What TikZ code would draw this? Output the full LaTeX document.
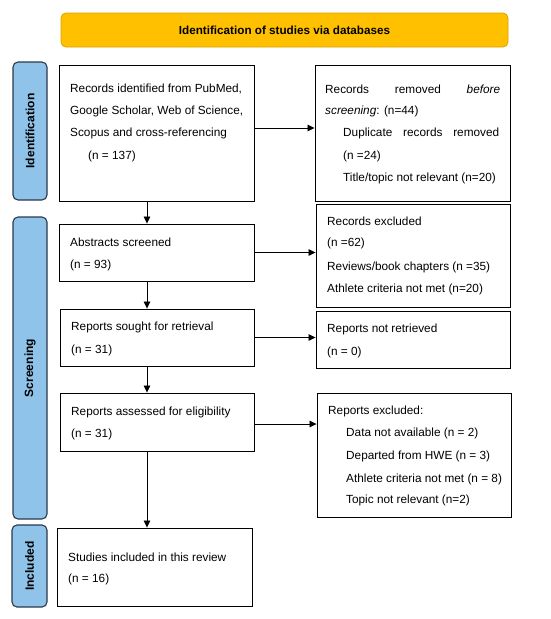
\documentclass[tikz,border=0pt]{standalone}
\usepackage{fontspec}
\setmainfont{Liberation Sans}
\usetikzlibrary{arrows.meta,calc}
\definecolor{bannerfill}{HTML}{FFC000}
\definecolor{bannerline}{HTML}{D9A300}
\definecolor{sidefill}{HTML}{8FC3E9}
\definecolor{sideline}{HTML}{2B3A4A}
\begin{document}
\begin{tikzpicture}[x=1pt,y=-1pt,
  box/.style={draw=black, line width=0.9pt, inner sep=0pt},
  banner/.style={draw=bannerline, fill=bannerfill, line width=0.8pt, rounded corners=5pt, inner sep=0pt, font=\fontsize{11.7}{13}\selectfont\bfseries},
  side/.style={draw=sideline, fill=sidefill, line width=1.1pt, rounded corners=5pt, inner sep=0pt},
  sidetxt/.style={rotate=90, font=\fontsize{12}{13}\selectfont\bfseries, inner sep=0pt},
  lbl/.style={anchor=west, inner sep=0pt, font=\fontsize{11.8}{13}\selectfont},
  arr/.style={-{Triangle[length=7pt,width=6.5pt]}, line width=0.8pt}]
\useasboundingbox (0,0) rectangle (550,619);
% banner
\node[banner, minimum width=447pt, minimum height=34pt] (ban) at (284.5,30) {Identification of studies via databases};
% side labels
\node[side, minimum width=34pt, minimum height=138pt] (s1) at (30,131) {};
\node[sidetxt] (s1t) at (s1.center) {Identification};
\node[side, minimum width=34pt, minimum height=302pt] (s2) at (30,368) {};
\node[sidetxt] (s2t) at (s2.center) {Screening};
\node[side, minimum width=35pt, minimum height=82pt] (s3) at (29.5,566) {};
\node[sidetxt] (s3t) at (s3.center) {Included};
% boxes
\node[box, minimum width=195pt, minimum height=136pt] (b1) at (156.5,133) {};
\node[box, minimum width=195pt, minimum height=136pt] (r1) at (412.5,133) {};
\node[box, minimum width=195pt, minimum height=57pt] (b2) at (156.5,252.5) {};
\node[box, minimum width=194pt, minimum height=103pt] (r2) at (413,255.5) {};
\node[box, minimum width=194pt, minimum height=57pt] (b3) at (157,337.5) {};
\node[box, minimum width=194pt, minimum height=57pt] (r3) at (413,339.5) {};
\node[box, minimum width=194pt, minimum height=58pt] (b4) at (157,422) {};
\node[box, minimum width=194pt, minimum height=124pt] (r4) at (414,455) {};
\node[box, minimum width=195pt, minimum height=78pt] (b5) at (154.5,567) {};
% texts
\node[lbl] (t1) at (70,89) {Records identified from PubMed,};
\node[lbl] (t2) at (70,111) {Google Scholar, Web of Science,};
\node[lbl] (t3) at (70,133) {Scopus and cross-referencing};
\node[lbl] (t4) at (88,156) {(n = 137)};
\node[lbl] (t5) at (325,89) {\makebox[175pt][s]{Records\hfill removed\hfill \textit{before}}};
\node[lbl] (t6) at (325,111) {\textit{screening}: (n=44)};
\node[lbl] (t7) at (343,133) {\makebox[156pt][s]{Duplicate\hfill records\hfill removed}};
\node[lbl] (t8) at (343,156) {(n =24)};
\node[lbl] (t9) at (343,178) {Title/topic not relevant (n=20)};
\node[lbl] (t10) at (70,242) {Abstracts screened};
\node[lbl] (t11) at (70,265) {(n = 93)};
\node[lbl] (t12) at (327,221) {Records excluded};
\node[lbl] (t13) at (327,243) {(n =62)};
\node[lbl] (t14) at (327,267) {Reviews/book chapters (n =35)};
\node[lbl] (t15) at (327,289) {Athlete criteria not met (n=20)};
\node[lbl] (t16) at (71,327) {Reports sought for retrieval};
\node[lbl] (t17) at (71,350) {(n = 31)};
\node[lbl] (t18) at (327,329) {Reports not retrieved};
\node[lbl] (t19) at (327,352) {(n = 0)};
\node[lbl] (t20) at (71,412) {Reports assessed for eligibility};
\node[lbl] (t21) at (71,434) {(n = 31)};
\node[lbl] (t22) at (328,411) {Reports excluded:};
\node[lbl] (t23) at (346,433) {Data not available (n = 2)};
\node[lbl] (t24) at (346,456) {Departed from HWE (n = 3)};
\node[lbl] (t25) at (346,479) {Athlete criteria not met (n = 8)};
\node[lbl] (t26) at (346,500) {Topic not relevant (n=2)};
\node[lbl] (t27) at (68,557) {Studies included in this review};
\node[lbl] (t28) at (68,579) {(n = 16)};
% connectors
\coordinate (ax) at (147,0);
\draw[arr] ([yshift=5pt]b1.east) -- ([yshift=5pt]b1.east -| r1.west);
\draw[arr] (b2.east) -- (b2.east -| r2.west);
\draw[arr] (b3.east) -- (b3.east -| r3.west);
\draw[arr] ([yshift=-2pt]b4.east) -- ([yshift=-2pt]b4.east -| r4.west);
\draw[arr] (ax |- b1.south) -- (ax |- b2.north);
\draw[arr] (ax |- b2.south) -- (ax |- b3.north);
\draw[arr] (ax |- b3.south) -- (ax |- b4.north);
\draw[arr] (ax |- b4.south) -- (ax |- b5.north);
\end{tikzpicture}
\end{document}
